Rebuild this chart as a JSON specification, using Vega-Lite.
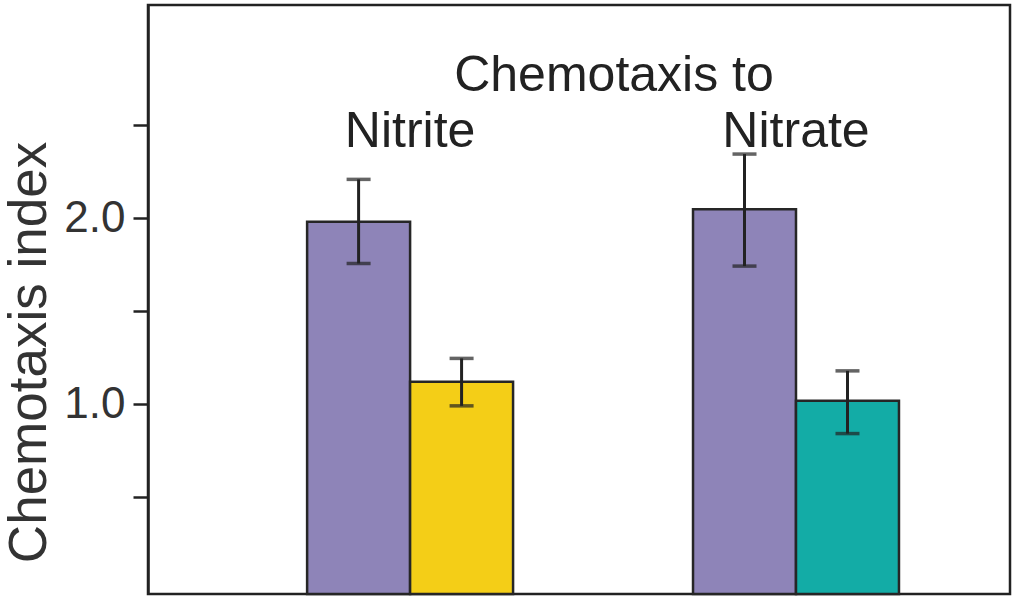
{
  "$schema": "https://vega.github.io/schema/vega-lite/v6.json",
  "width": 862,
  "height": 589,
  "autosize": "none",
  "padding": {"left": 148, "top": 5, "right": 14, "bottom": 14},
  "background": "white",
  "title": {
    "text": "Chemotaxis to",
    "font": "Liberation Sans",
    "fontSize": 50,
    "fontWeight": "normal",
    "color": "#222222",
    "anchor": "middle",
    "baseline": "alphabetic",
    "dx": 35,
    "offset": -136
  },
  "datasets": {
    "bars": [
      {"target": "Nitrite", "slot": "a", "series": "control", "index": 1.98, "lo": 1.756, "hi": 2.208},
      {"target": "Nitrite", "slot": "b", "series": "nitrite", "index": 1.12, "lo": 0.991, "hi": 1.246},
      {"target": "Nitrate", "slot": "a", "series": "control", "index": 2.048, "lo": 1.742, "hi": 2.344},
      {"target": "Nitrate", "slot": "b", "series": "nitrate", "index": 1.018, "lo": 0.842, "hi": 1.179}
    ],
    "labels": [
      {"target": "Nitrite", "label": "Nitrite", "pos": 2.382},
      {"target": "Nitrate", "label": "Nitrate", "pos": 2.382}
    ]
  },
  "encoding": {
    "x": {
      "field": "target",
      "type": "nominal",
      "sort": ["Nitrite", "Nitrate"],
      "axis": null,
      "scale": {"paddingInner": 0.4663, "paddingOuter": 0.35, "align": 0.589}
    }
  },
  "layer": [
    {
      "data": {"name": "bars"},
      "mark": {"type": "bar", "stroke": "#262626", "strokeWidth": 2.5},
      "encoding": {
        "xOffset": {"field": "slot", "type": "nominal", "scale": {"paddingInner": 0, "paddingOuter": 0}},
        "y": {
          "field": "index",
          "type": "quantitative",
          "scale": {"domain": [-0.02, 3.145], "nice": false, "zero": false},
          "axis": {
            "values": [0.5, 1, 1.5, 2, 2.5],
            "labelExpr": "datum.value == 1 || datum.value == 2 ? format(datum.value, '.1f') : ''",
            "grid": false,
            "domainColor": "#222222",
            "domainWidth": 2.5,
            "tickColor": "#222222",
            "tickWidth": 2.5,
            "tickSize": 15,
            "labelFont": "Liberation Sans",
            "labelFontSize": 44,
            "labelColor": "#333333",
            "labelPadding": 8,
            "title": "Chemotaxis index",
            "titleFont": "Liberation Sans",
            "titleFontSize": 53,
            "titleFontWeight": "normal",
            "titleColor": "#333333",
            "titlePadding": 7,
            "titleY": 347
          }
        },
        "y2": {"datum": -0.02},
        "color": {
          "field": "series",
          "type": "nominal",
          "legend": null,
          "scale": {
            "domain": ["control", "nitrite", "nitrate"],
            "range": ["#8e84b8", "#f4ce17", "#13aca6"]
          }
        }
      }
    },
    {
      "data": {"name": "bars"},
      "mark": {"type": "rule", "color": "#222222", "strokeWidth": 3},
      "encoding": {
        "xOffset": {"field": "slot", "type": "nominal"},
        "y": {"field": "lo", "type": "quantitative"},
        "y2": {"field": "hi"}
      }
    },
    {
      "data": {"name": "bars"},
      "mark": {"type": "tick", "color": "#222222", "size": 24, "thickness": 3.5},
      "encoding": {
        "xOffset": {"field": "slot", "type": "nominal"},
        "y": {"field": "lo", "type": "quantitative"}
      }
    },
    {
      "data": {"name": "bars"},
      "mark": {"type": "tick", "color": "#222222", "size": 24, "thickness": 3.5},
      "encoding": {
        "xOffset": {"field": "slot", "type": "nominal"},
        "y": {"field": "hi", "type": "quantitative"}
      }
    },
    {
      "data": {"name": "labels"},
      "mark": {
        "type": "text",
        "font": "Liberation Sans",
        "fontSize": 50,
        "baseline": "alphabetic",
        "align": "center",
        "color": "#222222"
      },
      "encoding": {
        "y": {"field": "pos", "type": "quantitative"},
        "text": {"field": "label"}
      }
    }
  ],
  "config": {
    "view": {"stroke": "#222222", "strokeWidth": 2.5}
  }
}
